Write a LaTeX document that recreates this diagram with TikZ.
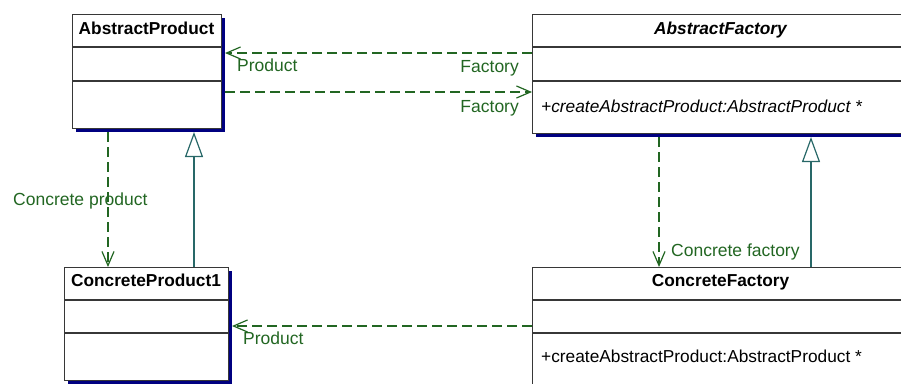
\documentclass[tikz,border=0pt]{standalone}
\usepackage{fontspec}
\setmainfont{Liberation Sans}
\usetikzlibrary{arrows.meta,shadows,calc}

\definecolor{depgreen}{RGB}{34,102,34}
\definecolor{genteal}{RGB}{40,104,104}
\definecolor{shadownavy}{RGB}{0,0,128}
\definecolor{boxline}{RGB}{55,55,55}

\tikzset{
  classbox/.style={draw=boxline, fill=white, line width=1.2pt, rectangle,
    inner sep=0pt, anchor=north west,
    general shadow={fill=shadownavy, shadow xshift=3.5pt, shadow yshift=-3.5pt}},
  divider/.style={draw=boxline, line width=1.2pt},
  classname/.style={font=\fontsize{17.3}{20}\selectfont\bfseries, anchor=base, inner sep=0pt},
  member/.style={font=\fontsize{17.3}{20}\selectfont, anchor=base west, inner sep=0pt},
  deplabel/.style={font=\fontsize{17.5}{20}\selectfont, text=depgreen, anchor=base west, inner sep=0pt},
  dependency/.style={draw=depgreen, line width=1.2pt, dash pattern=on 10pt off 5pt,
    -{Straight Barb[length=14pt, width=12pt, line width=1.2pt]}},
  generalization/.style={draw=genteal, line width=1.2pt,
    -{Triangle[open, length=25pt, width=18pt, fill=white, line width=1.2pt]}}
}

\begin{document}
\begin{tikzpicture}[x=1pt, y=-1pt]
\useasboundingbox (0,0) rectangle (901,383);
\clip (0,0) rectangle (901,383);

% class boxes
\node[classbox, minimum width=149pt, minimum height=114pt] (ap) at (72,14) {};
\node[classbox, minimum width=377pt, minimum height=119pt] (af) at (532,14) {};
\node[classbox, minimum width=164pt, minimum height=113pt] (cp) at (64,267) {};
\node[classbox, minimum width=377pt, minimum height=130pt] (cf) at (532,267) {};

% compartment dividers
\draw[divider] (ap.west |- 0,47) -- (ap.east |- 0,47);
\draw[divider] (ap.west |- 0,81) -- (ap.east |- 0,81);
\draw[divider] (af.west |- 0,47) -- (af.east |- 0,47);
\draw[divider] (af.west |- 0,81) -- (af.east |- 0,81);
\draw[divider] (cp.west |- 0,300) -- (cp.east |- 0,300);
\draw[divider] (cp.west |- 0,333) -- (cp.east |- 0,333);
\draw[divider] (cf.west |- 0,300) -- (cf.east |- 0,300);
\draw[divider] (cf.west |- 0,333) -- (cf.east |- 0,333);

% class names and operations
\node[classname] (apname) at (146.5,34.5) {AbstractProduct};
\node[classname, font=\fontsize{17.3}{20}\selectfont\bfseries\itshape] (afname) at (720.5,34.5) {AbstractFactory};
\node[classname] (cpname) at (146,286.5) {ConcreteProduct1};
\node[classname] (cfname) at (720.5,286.5) {ConcreteFactory};
\node[member, font=\fontsize{17.3}{20}\selectfont\itshape] (afop) at (541,112) {+createAbstractProduct:AbstractProduct *};
\node[member] (cfop) at (541,362) {+createAbstractProduct:AbstractProduct *};

% connector end points on the boxes (outer edge of the shadow where present)
\coordinate (afP) at (532,53);
\coordinate (apP) at (225,53);
\coordinate (apF) at (225,92);
\coordinate (afF) at (532,92);
\coordinate (apB1) at (108,132);
\coordinate (cpT1) at (108,267);
\coordinate (cpT2) at (194,267);
\coordinate (apB2) at (194,132);
\coordinate (afB1) at (659,137);
\coordinate (cfT1) at (659,267);
\coordinate (cfT2) at (811,267);
\coordinate (afB2) at (811,137);
\coordinate (cfP) at (532,326);
\coordinate (cpP) at (232,326);

% dependencies
\draw[dependency] (afP) -- (apP);
\draw[dependency] (apF) -- (afF);
\draw[dependency] (apB1) -- (cpT1);
\draw[dependency] (afB1) -- (cfT1);
\draw[dependency] (cfP) -- (cpP);

% generalizations
\draw[generalization] (cpT2) -- (apB2);
\draw[generalization] (cfT2) -- (afB2);

% role labels
\node[deplabel] (l1) at (237,71) {Product};
\node[deplabel, anchor=base east] (l2) at (519,72) {Factory};
\node[deplabel, anchor=base east] (l3) at (519,112) {Factory};
\node[deplabel] (l4) at (13,205) {Concrete product};
\node[deplabel] (l5) at (671,256) {Concrete factory};
\node[deplabel] (l6) at (243,344) {Product};
\end{tikzpicture}
\end{document}
